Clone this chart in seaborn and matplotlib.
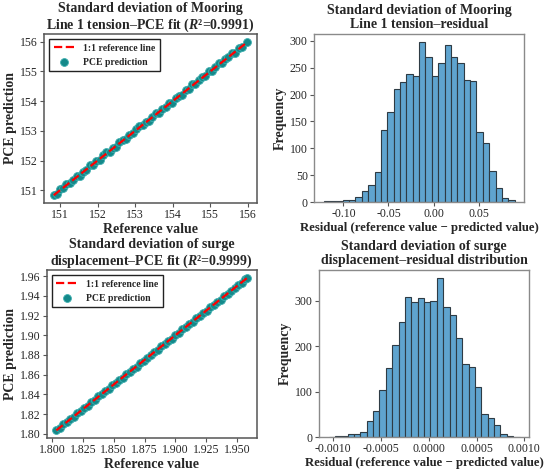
import numpy as np
import matplotlib
matplotlib.use("Agg")
import matplotlib.pyplot as plt
import seaborn as sns
import pandas as pd

# mooring line 1 tension std: reference vs PCE prediction
ref_tension = [150.83, 150.91, 151.00, 151.08, 151.17, 151.26, 151.35, 151.44, 151.52, 151.61,
               151.70, 151.79, 151.88, 151.96, 152.05, 152.14, 152.23, 152.32, 152.40, 152.49,
               152.58, 152.67, 152.76, 152.84, 152.93, 153.02, 153.11, 153.20, 153.28, 153.37,
               153.46, 153.55, 153.64, 153.72, 153.81, 153.90, 153.99, 154.08, 154.16, 154.25,
               154.34, 154.43, 154.52, 154.60, 154.69, 154.78, 154.87, 154.96, 155.04, 155.13,
               155.22, 155.31, 155.40, 155.48, 155.57, 155.66, 155.75, 155.84, 155.98]
pce_tension = [150.85, 150.87, 151.03, 151.06, 151.22, 151.23, 151.36, 151.48, 151.47, 151.63,
               151.69, 151.85, 151.85, 151.99, 152.03, 152.18, 152.30, 152.28, 152.41, 152.46,
               152.63, 152.69, 152.71, 152.87, 152.92, 153.06, 153.17, 153.18, 153.31, 153.33,
               153.48, 153.60, 153.61, 153.73, 153.79, 153.94, 153.94, 154.11, 154.18, 154.22,
               154.39, 154.42, 154.58, 154.56, 154.71, 154.81, 154.85, 155.00, 155.01, 155.14,
               155.27, 155.27, 155.42, 155.47, 155.61, 155.63, 155.78, 155.82, 156.00]

# surge displacement std: reference vs PCE prediction
ref_surge = [1.8035, 1.8063, 1.8091, 1.8120, 1.8148, 1.8176, 1.8205, 1.8233, 1.8261, 1.8290,
             1.8318, 1.8346, 1.8375, 1.8403, 1.8431, 1.8460, 1.8488, 1.8516, 1.8545, 1.8573,
             1.8601, 1.8630, 1.8658, 1.8686, 1.8715, 1.8743, 1.8771, 1.8800, 1.8828, 1.8856,
             1.8885, 1.8913, 1.8941, 1.8970, 1.8998, 1.9026, 1.9055, 1.9083, 1.9111, 1.9140,
             1.9168, 1.9196, 1.9225, 1.9253, 1.9281, 1.9310, 1.9338, 1.9366, 1.9395, 1.9423,
             1.9451, 1.9480, 1.9508, 1.9536, 1.9565, 1.9583]
pce_surge = [1.8038, 1.8060, 1.8095, 1.8117, 1.8152, 1.8173, 1.8208, 1.8230, 1.8266, 1.8287,
             1.8321, 1.8343, 1.8379, 1.8400, 1.8434, 1.8456, 1.8491, 1.8513, 1.8549, 1.8570,
             1.8604, 1.8626, 1.8661, 1.8683, 1.8719, 1.8740, 1.8774, 1.8797, 1.8832, 1.8853,
             1.8888, 1.8909, 1.8945, 1.8967, 1.9001, 1.9023, 1.9059, 1.9080, 1.9114, 1.9137,
             1.9172, 1.9193, 1.9228, 1.9250, 1.9285, 1.9306, 1.9341, 1.9363, 1.9399, 1.9420,
             1.9454, 1.9477, 1.9512, 1.9533, 1.9568, 1.9585]

# residual histograms (30 bins each)
tension_range = (-0.122, 0.090)
tension_counts = [2, 1, 1, 3, 3, 9, 20, 31, 55, 134, 167, 210, 223, 238, 235,
                  298, 270, 235, 259, 293, 270, 258, 227, 226, 131, 110, 57, 26, 8, 4]
surge_range = (-0.00105, 0.00095)
surge_counts = [1, 3, 3, 6, 6, 11, 35, 57, 104, 153, 203, 252, 308, 298, 305,
                297, 300, 350, 286, 269, 219, 160, 155, 110, 51, 41, 27, 6, 3, 1]

TITLES = [
    "Standard deviation of Mooring\nLine 1 tension\u2013PCE fit ($\\mathbfit{R}$\u00b2=0.9991)",
    "Standard deviation of Mooring\nLine 1 tension\u2013residual",
    "Standard deviation of surge\ndisplacement\u2013PCE fit ($\\mathbfit{R}$\u00b2=0.9999)",
    "Standard deviation of surge\ndisplacement\u2013residual distribution",
]

sns.set_theme(style="ticks")
plt.rcParams['font.family'] = ['Liberation Serif', 'DejaVu Serif']
plt.rcParams['mathtext.fontset'] = 'custom'
plt.rcParams['mathtext.rm'] = 'Liberation Serif'
plt.rcParams['mathtext.it'] = 'Liberation Serif:italic'
plt.rcParams['mathtext.bf'] = 'Liberation Serif:bold'
plt.rcParams['mathtext.bfit'] = 'Liberation Serif:italic:bold'

TEAL = '#14898a'
BAR = '#5fa4cf'
LABEL_FS = 10
TITLE_FS = 10


def style_axes(ax, spine_col, lw):
    for s in ax.spines.values():
        s.set_visible(True)
        s.set_color(spine_col)
        s.set_linewidth(lw)
    ax.tick_params(labelsize=8.5, length=3, width=0.8, color='#555555', pad=1.5)


def fit_panel(ax, ref, pce, title):
    df = pd.DataFrame({'ref': ref, 'pce': pce})
    line = pd.DataFrame({'x': [min(ref), max(ref)], 'y': [min(ref), max(ref)]})
    sns.scatterplot(data=df, x='ref', y='pce', ax=ax, color=TEAL, s=32, alpha=1,
                    linewidth=0.6, edgecolor='#3fb0b0', label='PCE prediction', zorder=2)
    sns.lineplot(data=line, x='x', y='y', ax=ax, color='red', linestyle='--', lw=1.6,
                 label='1:1 reference line', zorder=3)
    ax.set_xlabel('Reference value', fontsize=LABEL_FS, fontweight='bold', labelpad=1)
    ax.set_ylabel('PCE prediction', fontsize=LABEL_FS, fontweight='bold', labelpad=2)
    ax.set_title(title, fontsize=TITLE_FS, fontweight='bold', pad=4, linespacing=1.1)
    h, l = ax.get_legend_handles_labels()
    leg = ax.legend(h[::-1], l[::-1], loc='upper left', fancybox=False,
                    framealpha=1, edgecolor='#222222', borderpad=0.5, handlelength=2.2,
                    prop={'weight': 'bold', 'size': 7})
    leg.get_frame().set_linewidth(1.0)
    style_axes(ax, '#555555', 1.1)


def hist_panel(ax, counts, rng, title):
    edges = np.linspace(rng[0], rng[1], len(counts) + 1)
    centers = (edges[:-1] + edges[1:]) / 2
    df = pd.DataFrame({'res': centers, 'n': counts})
    sns.histplot(data=df, x='res', weights='n', bins=len(counts), binrange=rng, ax=ax,
                 color=BAR, alpha=1, edgecolor='#2e3b44', linewidth=0.8)
    ax.set_xlabel('Residual (reference value \u2212 predicted value)', fontsize=9.2,
                  fontweight='bold', labelpad=1)
    ax.set_ylabel('Frequency', fontsize=LABEL_FS, fontweight='bold', labelpad=2)
    ax.set_title(title, fontsize=TITLE_FS, fontweight='bold', pad=4, linespacing=1.1)
    style_axes(ax, '#8a8a8a', 1.0)


fig = plt.figure(figsize=(5.5, 4.72), dpi=100)
ax1 = fig.add_axes([0.080, 0.570, 0.387, 0.358])
ax2 = fig.add_axes([0.571, 0.572, 0.382, 0.356])
ax3 = fig.add_axes([0.085, 0.072, 0.382, 0.356])
ax4 = fig.add_axes([0.580, 0.074, 0.382, 0.354])

fit_panel(ax1, ref_tension, pce_tension, TITLES[0])
ax1.set_xticks([151, 152, 153, 154, 155, 156])
ax1.set_yticks([151, 152, 153, 154, 155, 156])

hist_panel(ax2, tension_counts, tension_range, TITLES[1])
ax2.set_xticks([-0.10, -0.05, 0.00, 0.05])
ax2.set_xticklabels(['-0.10', '-0.05', '0.00', '0.05'])

fit_panel(ax3, ref_surge, pce_surge, TITLES[2])
ax3.set_xticks([1.800, 1.825, 1.850, 1.875, 1.900, 1.925, 1.950])
ax3.set_xticklabels(['1.800', '1.825', '1.850', '1.875', '1.900', '1.925', '1.950'])
ax3.set_yticks([1.80, 1.82, 1.84, 1.86, 1.88, 1.90, 1.92, 1.94, 1.96])
ax3.set_yticklabels(['1.80', '1.82', '1.84', '1.86', '1.88', '1.90', '1.92', '1.94', '1.96'])

hist_panel(ax4, surge_counts, surge_range, TITLES[3])
ax4.set_xticks([-0.0010, -0.0005, 0.0, 0.0005, 0.0010])
ax4.set_xticklabels(['-0.0010', '-0.0005', '0.0000', '0.0005', '0.0010'])

fig.savefig('out.png', dpi=100)
